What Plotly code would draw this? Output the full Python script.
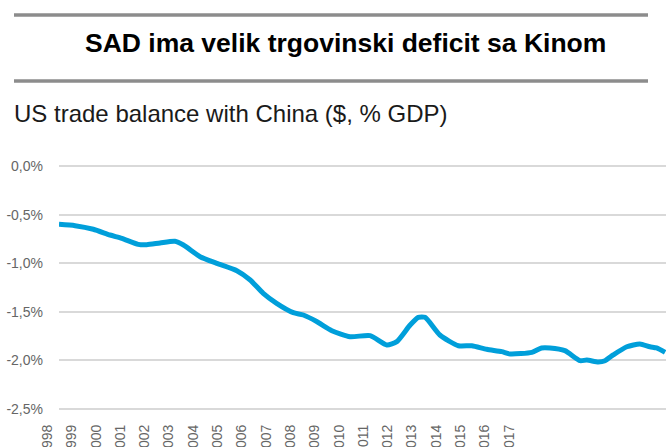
import plotly.graph_objects as go

# ---- data ----
years = [1998.00, 1998.53, 1999.13, 1999.68, 2000.07, 2000.61, 2000.89, 2001.33,
         2001.82, 2002.10, 2002.65, 2003.20, 2003.86, 2004.29, 2004.73, 2005.17,
         2005.72, 2006.05, 2006.49, 2006.99, 2007.59, 2008.25, 2008.80, 2009.13,
         2009.57, 2009.84, 2010.06, 2010.55, 2011.16, 2011.60, 2012.09, 2012.59,
         2012.86, 2013.58, 2013.90, 2014.18, 2014.67, 2015.17, 2015.39, 2015.77,
         2015.99, 2016.26, 2016.71, 2017.14, 2017.47, 2017.69, 2017.97]
balance_pct = [-0.600, -0.614, -0.651, -0.710, -0.744, -0.806, -0.810, -0.792,
               -0.775, -0.813, -0.933, -1.001, -1.077, -1.170, -1.310, -1.413,
               -1.509, -1.533, -1.600, -1.694, -1.756, -1.745, -1.841, -1.807,
               -1.636, -1.557, -1.557, -1.739, -1.849, -1.849, -1.886, -1.910,
               -1.934, -1.917, -1.872, -1.872, -1.900, -2.003, -1.996, -2.016,
               -2.003, -1.944, -1.860, -1.831, -1.860, -1.872, -1.917]

x_tick_labels = ["1998", "1999", "2000", "2001", "2002", "2003", "2004", "2005",
                 "2006", "2007", "2008", "2009", "2010", "2011", "2012", "2013",
                 "2014", "2015", "2016", "2017"]
y_tick_vals = [0.0, -0.5, -1.0, -1.5, -2.0, -2.5]
y_tick_text = ["0,0%", "-0,5%", "-1,0%", "-1,5%", "-2,0%", "-2,5%"]

title_text = "SAD ima velik trgovinski deficit sa Kinom"
subtitle_text = "US trade balance with China ($, % GDP)"

# ---- figure ----
W, H = 666, 447
LINE_COLOR = "#009FDA"
TICK_FONT = dict(family="Liberation Sans, Arial, sans-serif", size=14, color="#666666")

fig = go.Figure()
fig.add_trace(go.Scatter(
    x=years, y=balance_pct, mode="lines",
    line=dict(color=LINE_COLOR, width=5, shape="spline", smoothing=0.6),
    hovertemplate="%{x:.2f}: %{y:.2f}%<extra></extra>",
    xaxis="x", yaxis="y",
))
# category axis that only carries the year labels
fig.add_trace(go.Scatter(
    x=x_tick_labels, y=[None] * len(x_tick_labels), mode="lines",
    xaxis="x2", yaxis="y2", showlegend=False, hoverinfo="skip",
))

plot_left = 59
px_per_pct = 243 / 2.5
y0_px = 166
y_top_px = y0_px - 0.05 * px_per_pct
y_bot_px = y0_px + 2.55 * px_per_pct
px_per_year = 607 / 20
x_max = 1998 + (W - plot_left) / px_per_year

lab_first = 47.4
lab_step = 24.3
x2_left = 30
r0 = -(lab_first - x2_left) / lab_step
r1 = r0 + (W - x2_left) / lab_step

ydom = [(H - y_bot_px) / H, (H - y_top_px) / H]

fig.update_layout(
    width=W, height=H,
    margin=dict(l=0, r=0, t=0, b=0, pad=0),
    paper_bgcolor="white", plot_bgcolor="rgba(0,0,0,0)",
    showlegend=False,
    xaxis=dict(
        domain=[plot_left / W, 1.0], range=[1998.0, x_max],
        showgrid=False, zeroline=False, showline=False,
        showticklabels=False, ticks="", automargin=False,
    ),
    xaxis2=dict(
        domain=[x2_left / W, 1.0], anchor="y2", side="bottom",
        type="category", range=[r0, r1],
        showgrid=False, zeroline=False, showline=False, ticks="",
        tickangle=-90, tickfont=TICK_FONT, ticklabelstandoff=7,
        automargin=False,
    ),
    yaxis=dict(
        domain=ydom,
        range=[-2.55, 0.05],
        tickvals=y_tick_vals, ticktext=y_tick_text,
        showgrid=True, gridcolor="#D9D9D9", gridwidth=1.5,
        zeroline=False, showline=False, ticks="",
        tickfont=TICK_FONT, ticklabelstandoff=15, automargin=False,
    ),
    yaxis2=dict(
        domain=ydom, anchor="x2", range=[-2.55, 0.05],
        showgrid=False, zeroline=False, showline=False,
        showticklabels=False, ticks="", automargin=False,
    ),
    shapes=[
        dict(type="line", xref="paper", yref="paper",
             x0=14 / W, x1=648 / W, y0=1 - 15 / H, y1=1 - 15 / H,
             line=dict(color="#8C8C8C", width=3.5)),
        dict(type="line", xref="paper", yref="paper",
             x0=14 / W, x1=648 / W, y0=1 - 81 / H, y1=1 - 81 / H,
             line=dict(color="#8C8C8C", width=3.5)),
    ],
    annotations=[
        dict(text=f"<b>{title_text}</b>", xref="paper", yref="paper",
             x=345.5 / W, y=1 - 43 / H, xanchor="center", yanchor="middle",
             showarrow=False,
             font=dict(family="Liberation Sans, Arial, sans-serif", size=26.5, color="#000000")),
        dict(text=subtitle_text, xref="paper", yref="paper",
             x=12 / W, y=1 - 113 / H, xanchor="left", yanchor="middle",
             showarrow=False,
             font=dict(family="Liberation Sans, Arial, sans-serif", size=24, color="#1a1a1a")),
    ],
)

page_js = (
    "document.documentElement.style.overflow='hidden';"
    "document.body.style.overflow='hidden';"
    "document.body.style.margin='0';"
)
fig.write_html("out.html", config={"displayModeBar": False}, post_script=page_js)
